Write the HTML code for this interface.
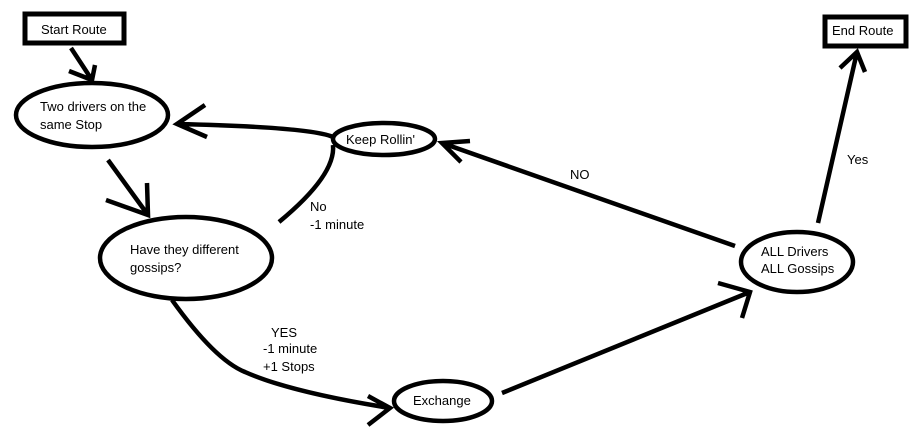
<!DOCTYPE html>
<html><head><style>
body{margin:0;background:#fff;}
svg text{font-family:"Liberation Sans",sans-serif;font-size:13px;fill:#000;}
</style></head><body>
<svg width="915" height="440" viewBox="0 0 915 440" xmlns="http://www.w3.org/2000/svg">
<g fill="none" stroke="#000" stroke-width="4.5" stroke-linecap="butt">
<rect x="25" y="14" width="99" height="29" stroke-width="5"/>
<rect x="825" y="17" width="81" height="29" stroke-width="5"/>
<ellipse cx="92" cy="115" rx="76" ry="32"/>
<ellipse cx="186" cy="258" rx="86" ry="41"/>
<ellipse cx="384" cy="139" rx="51" ry="16"/>
<ellipse cx="443" cy="401" rx="49" ry="20"/>
<ellipse cx="797" cy="262" rx="56" ry="30"/>
<path d="M71 48 L92 80 M69 71 L92 80 L95 65"/>
<path d="M108 160 L148 215 M106 200 L148 215 L147 183"/>
<path d="M333 137 Q310 127 177 124 M205 105 L177 124 L207 137"/>
<path d="M333 145 Q336 175 279 222"/>
<path d="M172 300 Q215 360 245 372 Q290 392 390 408 M368 396 L390 408 L368 425"/>
<path d="M502 393 L750 292 M718 283 L750 292 L742 318"/>
<path d="M735 246 L442 143 M470 141 L442 143 L461 162"/>
<path d="M818 223 L857 52 M840 68 L857 52 L865 72"/>
</g>
<text x="41" y="34">Start Route</text>
<text x="832" y="35">End Route</text>
<text x="40" y="111">Two drivers on the</text>
<text x="40" y="129">same Stop</text>
<text x="130" y="254">Have they different</text>
<text x="130" y="272">gossips?</text>
<text x="346" y="144">Keep Rollin'</text>
<text x="413" y="405">Exchange</text>
<text x="761" y="256">ALL Drivers</text>
<text x="761" y="273">ALL Gossips</text>
<text x="570" y="179">NO</text>
<text x="847" y="164">Yes</text>
<text x="310" y="211">No</text>
<text x="310" y="229">-1 minute</text>
<text x="271" y="337">YES</text>
<text x="263" y="353">-1 minute</text>
<text x="263" y="371">+1 Stops</text>
</svg>
</body></html>
